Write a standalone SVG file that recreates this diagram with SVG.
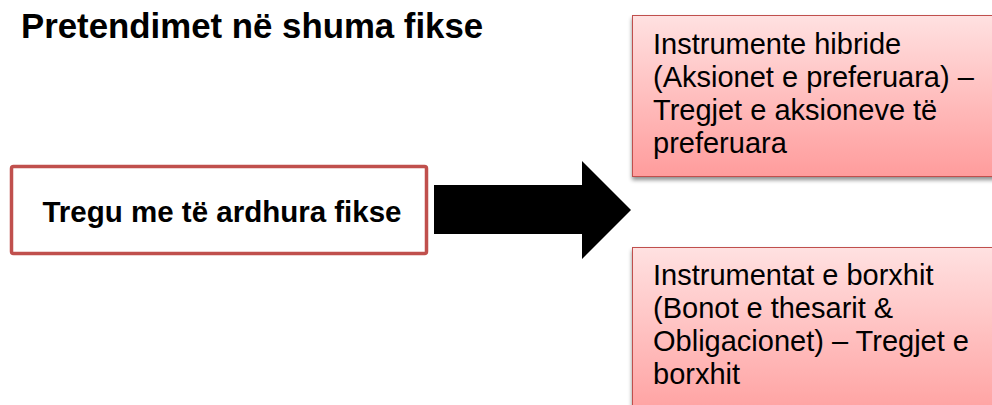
<svg xmlns="http://www.w3.org/2000/svg" width="992" height="405" viewBox="0 0 992 405">
<defs>
<linearGradient id="pink" x1="0" y1="0" x2="0" y2="1">
<stop offset="0" stop-color="#FFE1E1"/>
<stop offset="1" stop-color="#FF9C9C"/>
</linearGradient>
<filter id="sh" x="-5%" y="-5%" width="110%" height="120%">
<feGaussianBlur in="SourceAlpha" stdDeviation="2"/>
<feOffset dx="0" dy="3"/>
<feComponentTransfer><feFuncA type="linear" slope="0.45"/></feComponentTransfer>
<feMerge><feMergeNode/><feMergeNode in="SourceGraphic"/></feMerge>
</filter>
</defs>
<style>
text{font-family:"Liberation Sans",Arial,sans-serif;fill:#000}
.title{font-size:34.8px;font-weight:bold}
.bold{font-size:29.5px;font-weight:bold}
.box{fill:url(#pink);stroke:#C0504D;stroke-width:1}
.body{font-size:29px}
</style>
<rect width="992" height="405" fill="#fff"/>
<text class="title" x="21" y="38">Pretendimet në shuma fikse</text>
<g id="source">
<rect x="11.5" y="166.5" width="415" height="87" rx="2" fill="#fff" stroke="#C0504D" stroke-width="3.5"/>
<text class="bold" x="222" y="222" text-anchor="middle">Tregu me të ardhura fikse</text>
</g>
<g id="connectors">
<polygon points="434,185 582,185 582,161 631,210 582,259 582,234 434,234" fill="#000"/>
</g>
<g id="hybrid">
<rect class="box" x="632.5" y="15.5" width="380" height="161" filter="url(#sh)"/>
<text class="body" x="653" y="54">Instrumente hibride</text>
<text class="body" x="653" y="87">(Aksionet e preferuara) –</text>
<text class="body" x="653" y="120">Tregjet e aksioneve të</text>
<text class="body" x="653" y="153">preferuara</text>
</g>
<g id="debt">
<rect class="box" x="632.5" y="247.5" width="380" height="180" filter="url(#sh)"/>
<text class="body" x="653" y="285">Instrumentat e borxhit</text>
<text class="body" x="653" y="318">(Bonot e thesarit &amp;</text>
<text class="body" x="653" y="351">Obligacionet) – Tregjet e</text>
<text class="body" x="653" y="384">borxhit</text>
</g>
</svg>
